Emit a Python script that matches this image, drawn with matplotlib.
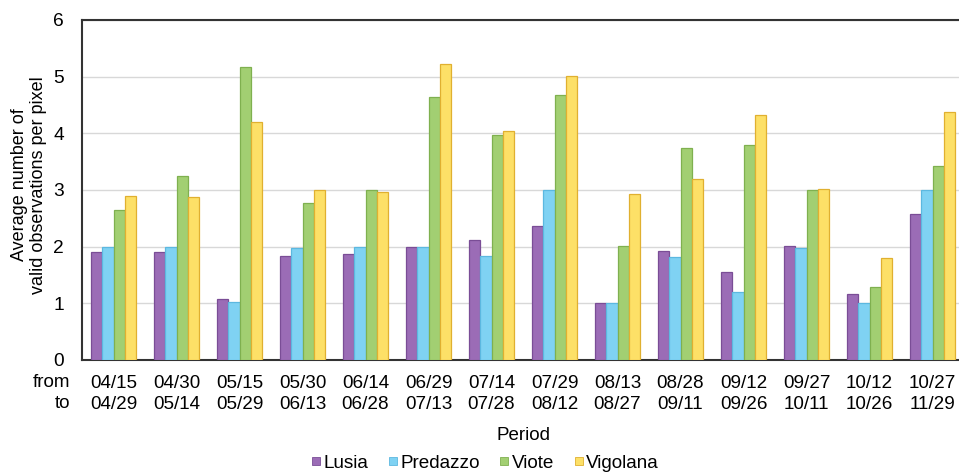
import matplotlib
matplotlib.use("Agg")
import matplotlib.pyplot as plt
from matplotlib.lines import Line2D
import numpy as np

plt.rcParams['font.family'] = ['Liberation Sans', 'DejaVu Sans']

periods_from = ["04/15", "04/30", "05/15", "05/30", "06/14", "06/29", "07/14",
                "07/29", "08/13", "08/28", "09/12", "09/27", "10/12", "10/27"]
periods_to = ["04/29", "05/14", "05/29", "06/13", "06/28", "07/13", "07/28",
              "08/12", "08/27", "09/11", "09/26", "10/11", "10/26", "11/29"]

lusia    = [1.90, 1.90, 1.08, 1.83, 1.87, 2.00, 2.12, 2.36, 1.00, 1.92, 1.56, 2.01, 1.17, 2.57]
predazzo = [2.00, 2.00, 1.03, 1.97, 2.00, 2.00, 1.84, 3.00, 1.00, 1.81, 1.20, 1.97, 1.00, 3.00]
viote    = [2.65, 3.25, 5.17, 2.77, 3.00, 4.65, 3.97, 4.68, 2.02, 3.75, 3.80, 3.00, 1.28, 3.42]
vigolana = [2.90, 2.87, 4.20, 3.00, 2.96, 5.23, 4.04, 5.02, 2.93, 3.20, 4.33, 3.02, 1.80, 4.37]

series = [("Lusia", lusia, "#9b6cb6", "#7a4d96"),
          ("Predazzo", predazzo, "#7fd2f3", "#5cb8e0"),
          ("Viote", viote, "#a2cf72", "#7fb04f"),
          ("Vigolana", vigolana, "#fde067", "#e0b030")]

W, H = 959, 475
fig = plt.figure(figsize=(W / 100, H / 100), dpi=100)
left, right, top, bottom = 82, 964, 20, 360
ax = fig.add_axes([left / W, 1 - bottom / H, (right - left) / W, (bottom - top) / H])

x = np.arange(len(periods_from))
bw = 0.18
offsets = [-1.5, -0.5, 0.5, 1.5]
handles = []
for (name, vals, fc, ec), off in zip(series, offsets):
    ax.bar(x + off * bw, vals, width=bw, color=fc, edgecolor=ec, linewidth=0.9,
           label=name, zorder=3)
    handles.append(Line2D([], [], marker='s', linestyle='none', markersize=6.2,
                          markerfacecolor=fc, markeredgecolor=ec, markeredgewidth=0.6,
                          label=name))

ax.set_xlim(-0.5, len(x) - 0.5)
ax.set_ylim(0, 6)
ax.set_yticks(range(0, 7))
ax.yaxis.grid(True, color="#d8d8d8", linewidth=1, zorder=0)
ax.tick_params(axis='y', length=0, labelsize=13.8, pad=13)
ax.set_xticks(x)
ax.set_xticklabels([f"{a}\n{b}" for a, b in zip(periods_from, periods_to)],
                   fontsize=13.6, linespacing=1.25)
ax.tick_params(axis='x', length=0, pad=11)
for s in ['left', 'bottom', 'top']:
    ax.spines[s].set_color("#333333")
    ax.spines[s].set_linewidth(1.5)
ax.spines['right'].set_visible(False)

fig.text(70 / W, 1 - 393 / H, "from\nto", ha='right', va='center', fontsize=13.6,
         linespacing=1.25, multialignment='right')

fig.text(29 / W, 1 - 185 / H, "Average number of\nvalid observations per pixel",
         rotation=90, ha='center', va='center', fontsize=13, linespacing=1.1)
fig.text(523 / W, 1 - 435 / H, "Period", ha='center', va='center', fontsize=13.5)

leg = fig.legend(handles=handles, loc='center', bbox_to_anchor=(485 / W, 1 - 463 / H),
                 ncol=4, frameon=False, fontsize=13.6, handlelength=0.5,
                 handletextpad=0.15, columnspacing=1.05)

fig.savefig("out.png", dpi=100)
